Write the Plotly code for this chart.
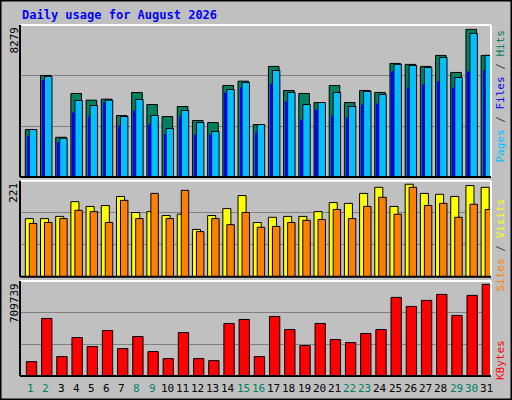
import plotly.graph_objects as go

days = list(range(1, 32))
hits = [2584, 5531, 2165, 4549, 4185, 4239, 3348, 4603, 3948, 3293, 3839, 3075, 2966, 4985, 5222, 2857,
        6023, 4713, 4549, 4057, 4985, 4057, 4713, 4603, 6186, 6132, 6023, 6623, 5695, 8042, 6623]
files = [2584, 5477, 2111, 4167, 3894, 4185, 3293, 4221, 3348, 2638, 3621, 2966, 2475, 4767, 5149, 2857,
         5804, 4603, 3948, 4057, 4603, 3839, 4658, 4494, 6132, 6077, 5968, 6514, 5422, 7824, 6623]
pages = [2220, 5277, 1892, 3512, 3293, 4076, 2802, 3621, 2857, 2365, 3293, 2311, 2311, 4603, 4876, 2420,
         5095, 4112, 3130, 3675, 3348, 3239, 3948, 4003, 5750, 4876, 5040, 5204, 4876, 5750, 5804]
visits = [134, 134, 139, 173, 162, 164, 185, 148, 150, 141, 144, 109, 141, 157, 187, 125,
          137, 139, 139, 150, 171, 169, 192, 206, 162, 213, 192, 190, 185, 210, 206]
sites = [123, 125, 134, 153, 150, 125, 176, 134, 192, 134, 199, 104, 134, 120, 148, 114,
         116, 125, 130, 132, 155, 134, 162, 183, 144, 206, 164, 169, 137, 167, 155]
kbytes = [107462, 429845, 144948, 287397, 219921, 339878, 204927, 294894, 182435, 129953, 324884,
          129953, 114960, 392362, 422351, 144948, 444843, 347375, 227418, 392362, 272403, 249910,
          317386, 347375, 587288, 519813, 564796, 609780, 452340, 602283, 684753]
weekend = [1, 2, 8, 9, 15, 16, 22, 23, 29, 30]
max_hits, max_visits, max_kb = 8279, 221, 709739

MONO = "DejaVu Sans Mono"
fig = go.Figure()

def bar(x, y, color, off, w, ax, line=1):
    fig.add_trace(go.Bar(x=x, y=y, marker=dict(color=color, line=dict(color="black", width=line)),
                         offset=off, width=w, xaxis="x", yaxis=ax, showlegend=False, hoverinfo="skip"))

bar(days, hits, "#008060", -0.35, 0.70, "y")
bar(days, files, "#00c0ff", -0.086, 0.49, "y")
bar(days, pages, "#0000ff", -0.22, 0.13, "y", 0)
bar(days, visits, "#ffff00", -0.35, 0.53, "y2")
bar(days, sites, "#ff8000", -0.086, 0.49, "y2")
bar(days, kbytes, "#ff0000", -0.28, 0.68, "y3")

xd = [20 / 512, 491 / 512]
doms = {"y": [0.5575, 0.9375], "y2": [0.308, 0.548], "y3": [0.06, 0.2975]}
maxes = {"y": max_hits, "y2": max_visits, "y3": max_kb}

layout = dict(
    width=512, height=400, margin=dict(l=0, r=0, t=0, b=0),
    paper_bgcolor="#c0c0c0", plot_bgcolor="#c0c0c0", barmode="overlay",
    xaxis=dict(domain=xd, range=[0.3, 31.3], showticklabels=False, showgrid=False,
               zeroline=False, fixedrange=True),
    font=dict(family=MONO),
)
for k, ax in [("y", "yaxis"), ("y2", "yaxis2"), ("y3", "yaxis3")]:
    m = maxes[k]
    layout[ax] = dict(domain=doms[k], range=[0, m], tickvals=[m / 3, 2 * m / 3], showticklabels=False,
                      gridcolor="#808080", gridwidth=1, zeroline=False, anchor="x")
fig.update_layout(**layout)

shapes = [
    dict(type="rect", xref="paper", yref="paper", x0=0.001, x1=0.999, y0=0.001, y1=0.999,
         line=dict(color="black", width=2)),
]
for k in ["y", "y2", "y3"]:
    y0, y1 = doms[k]
    shapes += [
        dict(type="line", xref="paper", yref="paper", x0=xd[0], x1=xd[1], y0=y1, y1=y1, line=dict(color="white", width=2)),
        dict(type="line", xref="paper", yref="paper", x0=xd[1], x1=xd[1], y0=y0, y1=y1, line=dict(color="white", width=2)),
        dict(type="line", xref="paper", yref="paper", x0=xd[0], x1=xd[1], y0=y0, y1=y0, line=dict(color="black", width=2)),
        dict(type="line", xref="paper", yref="paper", x0=xd[0], x1=xd[0], y0=y0, y1=y1, line=dict(color="black", width=2)),
    ]
fig.update_layout(shapes=shapes)

ann = [dict(text="<b>Daily usage for August 2026</b>", x=20 / 512, y=1 - 15 / 400, xref="paper", yref="paper",
            xanchor="left", yanchor="middle", showarrow=False, font=dict(color="#0000ff", size=12, family=MONO))]
for k, lab in [("y", str(max_hits)), ("y2", str(max_visits)), ("y3", str(max_kb))]:
    ann.append(dict(text=lab, x=14 / 512, y=doms[k][1], xref="paper", yref="paper", textangle=-90,
                    xanchor="center", yanchor="top", showarrow=False, font=dict(size=11, color="black", family=MONO)))
right = [
    ("y", "<span style='color:#00c0ff'>Pages</span> / <span style='color:#0000ff'>Files</span> / <span style='color:#008060'>Hits</span>", 1 - 28 / 400),
    ("y2", "<span style='color:#ff8000'>Sites</span> / <span style='color:#ffff00'>Visits</span>", 1 - 197 / 400),
    ("y3", "<span style='color:#ff0000'>KBytes</span>", 1 - 338 / 400),
]
for k, t, yt in right:
    ann.append(dict(text=t, x=500 / 512, y=yt, xref="paper", yref="paper", textangle=-90,
                    xanchor="center", yanchor="top", showarrow=False, font=dict(size=11, color="#404040", family=MONO)))
for d in days:
    ann.append(dict(text=str(d), x=d, y=1 - 388 / 400, xref="x", yref="paper", showarrow=False,
                    xanchor="center", yanchor="middle",
                    font=dict(size=11, family=MONO, color="#008060" if d in weekend else "black")))
fig.update_layout(annotations=ann)

fig.write_html("out.html", config={"displayModeBar": False},
               post_script="document.body.style.margin='0';document.body.style.overflow='hidden';")
